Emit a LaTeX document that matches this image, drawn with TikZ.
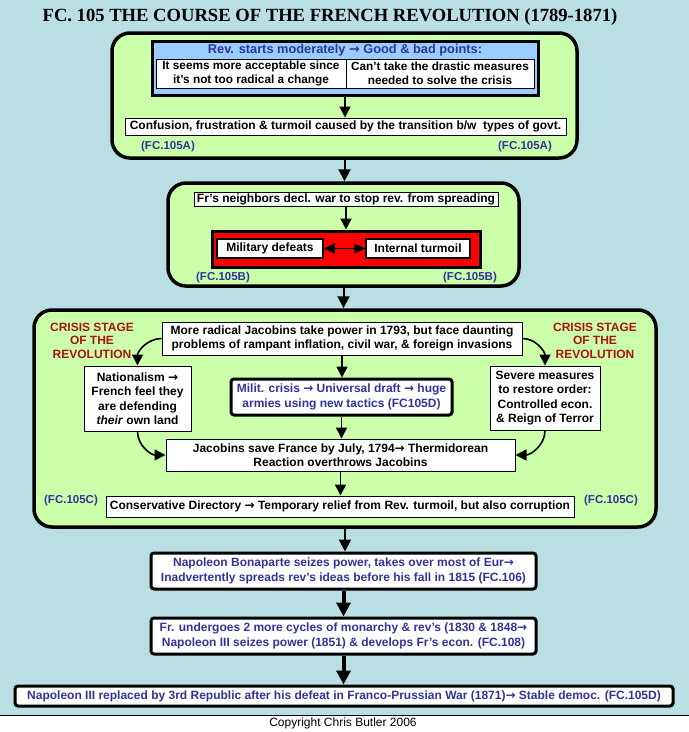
\documentclass[tikz,border=0pt]{standalone}
\usepackage{fontspec}
\setmainfont{Liberation Sans}
\newfontfamily\titlefont{Liberation Serif}
\newfontfamily\arrowfont{DejaVu Sans}
\newcommand{\rarr}{{\arrowfont\bfseries →}}
\usetikzlibrary{arrows.meta}
\definecolor{bg}{RGB}{185,223,227}
\definecolor{pgreen}{RGB}{204,255,170}
\definecolor{pblue}{RGB}{153,204,255}
\definecolor{dblue}{RGB}{51,51,153}
\definecolor{dred}{RGB}{170,20,20}
\definecolor{pred}{RGB}{255,0,0}
\tikzset{
  panel/.style={draw, line width=3.5pt, rounded corners=18pt, fill=pgreen, inner sep=0pt},
  wbox/.style={draw, line width=1pt, fill=white, inner sep=0pt, align=center},
  nbox/.style={draw, line width=3pt, rounded corners=3pt, fill=white, inner sep=0pt, align=center, text=dblue},
  ref/.style={text=dblue, font=\fontsize{11.5}{13}\selectfont\bfseries, inner sep=0pt},
  crisis/.style={text=dred, align=center, inner sep=0pt, font=\fontsize{12}{13.5}\selectfont\bfseries},
  arr/.style={-{Triangle[length=11pt,width=11pt]}, line width=1.6pt},
  midarr/.style={-{Triangle[length=12pt,width=12pt]}, line width=2pt},
  bigarr/.style={-{Triangle[length=14pt,width=14pt]}, line width=4pt},
  dbl/.style={{Triangle[length=11pt,width=10pt]}-{Triangle[length=11pt,width=10pt]}, line width=1.6pt},
}
\begin{document}
\begin{tikzpicture}[x=1pt,y=-1pt, font=\fontsize{12}{14.5}\selectfont\bfseries]
\useasboundingbox (0,0) rectangle (689,732);
\fill[bg] (0,0) rectangle (689,715);
\fill[white] (0,715) rectangle (689,732);
\draw[line width=1pt] (0,715) -- (689,715);

\node[inner sep=0pt, font=\fontsize{18.6}{20}\selectfont\titlefont\bfseries] (title) at (330,17) {FC. 105 THE COURSE OF THE FRENCH REVOLUTION (1789-1871)};

% Panel A
\node[panel, minimum width=465pt, minimum height=125pt] (A) at (344.5,95.5) {};
\node[draw, line width=3pt, fill=pblue, inner sep=0pt, minimum width=386pt, minimum height=54pt] (blue) at (345,68) {};
\node[inner sep=0pt, text=dblue, font=\fontsize{12.8}{14}\selectfont\bfseries] (bluet) at (345,50) {Rev. starts moderately \rarr\ Good \& bad points:};
\node[wbox, minimum width=190pt, minimum height=29pt, font=\fontsize{11.8}{13.5}\selectfont\bfseries] (cellL) at (251,73.5) {It seems more acceptable since\\it’s not too radical a change};
\node[wbox, minimum width=188pt, minimum height=29pt, font=\fontsize{11.8}{13.5}\selectfont\bfseries] (cellR) at (440,73.5) {Can’t take the drastic measures\\needed to solve the crisis};
\node[wbox, minimum width=441pt, minimum height=17pt] (conf) at (345.5,126.5) {Confusion, frustration \& turmoil caused by the transition b/w\ \ types of govt.};
\node[ref] (refAL) at (168,147) {(FC.105A)};
\node[ref] (refAR) at (525,147) {(FC.105A)};
\draw[arr] (blue.south) -- (blue.south |- conf.north);

% Panel B
\node[panel, minimum width=351pt, minimum height=103pt] (B) at (343.5,234.5) {};
\node[wbox, minimum width=304pt, minimum height=14pt] (neigh) at (346,199) {Fr’s neighbors\ decl. war to stop rev. from spreading};
\node[draw, line width=3pt, fill=pred, inner sep=0pt, minimum width=268pt, minimum height=36pt] (red) at (346,249) {};
\node[wbox, line width=1.5pt, minimum width=106pt, minimum height=19pt] (mil) at (270,248.5) {Military defeats};
\node[wbox, line width=1.5pt, minimum width=104pt, minimum height=19pt] (intl) at (418,248.5) {Internal turmoil};
\draw[dbl] (mil.east) -- (intl.west);
\node[ref] (refBL) at (223,278) {(FC.105B)};
\node[ref] (refBR) at (470,278) {(FC.105B)};
\draw[arr] (neigh.south) -- (neigh.south |- red.north);
\draw[midarr] (A.south) -- (A.south |- B.north);

% Panel C
\node[panel, minimum width=622pt, minimum height=217pt] (C) at (345,418.5) {};
\draw[midarr] (B.south) -- (B.south |- C.north);
\node[wbox, minimum width=360pt, minimum height=33pt] (top) at (342,338.5) {More radical Jacobins take power in 1793, but face daunting\\problems of rampant inflation, civil war, \& foreign invasions};
\node[crisis] (crL) at (92,340.5) {CRISIS STAGE\\OF THE\\REVOLUTION};
\node[crisis] (crR) at (595,340.5) {CRISIS STAGE\\OF THE\\REVOLUTION};
\node[wbox, minimum width=107pt, minimum height=65pt] (nat) at (137.5,398.5) {Nationalism \rarr\\French feel they\\are defending\\\textit{their} own land};
\node[nbox, minimum width=221pt, minimum height=36pt] (milit) at (341.5,397) {Milit. crisis \rarr\ Universal draft \rarr\ huge\\armies using new tactics (FC105D)};
\node[wbox, minimum width=110pt, minimum height=64pt] (sev) at (545,398) {Severe measures\\to restore order:\\Controlled econ.\\\& Reign of Terror};
\node[wbox, minimum width=349pt, minimum height=32pt] (save) at (340.5,455) {Jacobins save France by July, 1794\rarr\ Thermidorean\\Reaction overthrows Jacobins};
\node[wbox, minimum width=468pt, minimum height=21pt] (dir) at (340,506.5) {Conservative Directory \rarr\ Temporary relief from Rev. turmoil, but also corruption};
\node[ref] (refCL) at (71,501) {(FC.105C)};
\node[ref] (refCR) at (611,501) {(FC.105C)};
\draw[arr] (top.south) -- (top.south |- milit.north);
\draw[arr] (milit.south) -- (milit.south |- save.north);
\draw[arr] (save.south) -- (save.south |- dir.north);
\draw[arr] (top.west) to[out=180,in=90] (nat.north);
\draw[arr] (top.east) to[out=0,in=90] (sev.north);
\draw[arr] (nat.south) to[out=-90,in=180] (save.west);
\draw[arr] (sev.south) to[out=-90,in=0] (save.east);

% Lower chain
\node[nbox, minimum width=385pt, minimum height=36pt] (napo) at (343.5,571) {Napoleon Bonaparte seizes power, takes over most of Eur\rarr\\Inadvertently spreads rev’s ideas before his fall in 1815 (FC.106)};
\node[nbox, minimum width=385pt, minimum height=36pt] (cyc) at (343.5,636) {Fr. undergoes 2 more cycles of monarchy \& rev’s (1830 \& 1848\rarr\\Napoleon III seizes power (1851) \& develops Fr’s econ. (FC.108)};
\node[nbox, minimum width=658pt, minimum height=20pt] (rep) at (344,696) {Napoleon III replaced by 3rd Republic after his defeat in Franco-Prussian War (1871)\rarr\ Stable democ. (FC.105D)};
\draw[midarr] (C.south) -- (C.south |- napo.north);
\draw[bigarr] (napo.south) -- (napo.south |- cyc.north);
\draw[bigarr] (cyc.south) -- (cyc.south |- rep.north);

\node[inner sep=0pt, font=\fontsize{12}{13}\selectfont] (copy) at (343,723) {Copyright Chris Butler 2006};
\end{tikzpicture}
\end{document}
